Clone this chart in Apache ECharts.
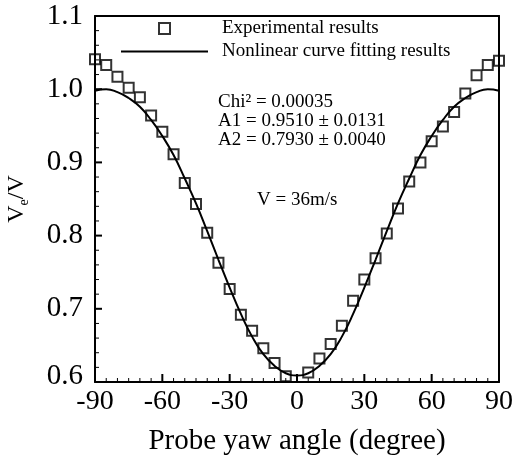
<!DOCTYPE html>
<html>
<head>
<meta charset="utf-8">
<script src="https://cdn.jsdelivr.net/npm/echarts@6/dist/echarts.min.js"></script>
<style>html,body{margin:0;padding:0;background:#fff;}#c{width:515px;height:458px;}</style>
</head>
<body>
<div id="c"></div>
<script>
// Experimental points
var expAngles = [-90,-85,-80,-75,-70,-65,-60,-55,-50,-45,-40,-35,-30,-25,-20,-15,-10,-5,
                 5,10,15,20,25,30,35,40,45,50,55,60,65,70,75,80,85,90];
var expValues = [1.041,1.033,1.017,1.002,0.989,0.964,0.942,0.911,0.872,0.843,0.804,0.763,0.727,0.692,0.670,0.646,0.626,0.608,
                 0.613,0.632,0.652,0.677,0.711,0.740,0.769,0.803,0.837,0.874,0.900,0.929,0.949,0.969,0.994,1.019,1.033,1.039];
// Fitted curve
var fitAngles = [-90,-85,-80,-75,-70,-65,-60,-55,-50,-45,-40,-35,-30,-25,-20,-15,-10,-5,0,
                 5,10,15,20,25,30,35,40,45,50,55,60,65,70,75,80,85,90];
var fitValues = [0.998,1.000,0.996,0.988,0.976,0.958,0.936,0.910,0.878,0.844,0.806,0.767,0.729,0.693,0.662,0.638,0.622,0.612,0.609,
                 0.612,0.622,0.638,0.662,0.693,0.729,0.767,0.806,0.844,0.878,0.910,0.936,0.958,0.976,0.988,0.996,1.000,0.998];
// Tick values
var xTickMajor = [-90,-60,-30,0,30,60,90];
var xTickMinor = [-85,-80,-75,-70,-65,-55,-50,-45,-40,-35,-25,-20,-15,-10,-5,
                  5,10,15,20,25,35,40,45,50,55,65,70,75,80,85];
var yTickMajor = [0.6,0.7,0.8,0.9,1.0,1.1];
var yTickMinor = [0.62,0.64,0.66,0.68,0.72,0.74,0.76,0.78,0.82,0.84,0.86,0.88,
                  0.92,0.94,0.96,0.98,1.02,1.04,1.06,1.08];
var seriesNames = ['Experimental results', 'Nonlinear curve fitting results'];
var annotations = ['Chi\u00B2 = 0.00035', 'A1 = 0.9510 \u00B1 0.0131', 'A2 = 0.7930 \u00B1 0.0040', 'V = 36m/s'];
var xTitle = 'Probe yaw angle (degree)';

var FF = '"Liberation Serif", "DejaVu Serif", serif';
var X_MIN = -90, X_MAX = 90, Y_MIN = 0.6, Y_MAX = 1.1;
function zip(a, b) { return a.map(function (v, i) { return [v, b[i]]; }); }

// tick items: [kind (0 = x, 1 = y), value, length, width]
var tickData = []
  .concat(xTickMajor.map(function (v) { return [0, v, 8, 2]; }))
  .concat(xTickMinor.map(function (v) { return [0, v, 4, 1]; }))
  .concat(yTickMajor.map(function (v) { return [1, v, 7, 2]; }))
  .concat(yTickMinor.map(function (v) { return [1, v, 4, 1]; }));

var frameAxis = {
  axisLine: {show: true, onZero: false, lineStyle: {color: '#000', width: 2}},
  axisTick: {show: false}, axisLabel: {show: false}, splitLine: {show: false}
};

var chart = echarts.init(document.getElementById('c'), null, {renderer: 'canvas'});
chart.setOption({
  backgroundColor: '#fff',
  animation: false,
  grid: {left: 95, right: 16, top: 16, bottom: 76, show: false, containLabel: false, outerBoundsMode: 'none'},
  legend: {
    orient: 'vertical', left: 121, top: 19, padding: 0,
    itemWidth: 87, itemHeight: 11, itemGap: 4,
    textStyle: {fontFamily: FF, fontSize: 19, color: '#000', padding: [0, 0, 0, 9]},
    data: [
      {name: seriesNames[0], icon: 'path://M0,0L10,0L10,10L0,10Z',
       itemStyle: {color: 'transparent', borderColor: '#000', borderWidth: 2}},
      {name: seriesNames[1], icon: 'path://M0,0L87,0L87,2L0,2Z',
       itemStyle: {color: '#000', borderWidth: 0}}
    ]
  },
  xAxis: [{
    type: 'value', min: X_MIN, max: X_MAX, interval: 30, position: 'bottom',
    axisLine: {show: true, onZero: false, lineStyle: {color: '#000', width: 2}},
    axisTick: {show: false},
    splitLine: {show: false},
    axisLabel: {fontFamily: FF, fontSize: 28, color: '#000', margin: 6},
    name: xTitle, nameLocation: 'middle', nameGap: 45,
    nameTextStyle: {fontFamily: FF, fontSize: 29, color: '#000'}
  }, Object.assign({type: 'value', min: X_MIN, max: X_MAX, interval: 30, position: 'top'}, frameAxis)],
  yAxis: [{
    type: 'value', min: Y_MIN, max: Y_MAX, interval: 0.1, position: 'left',
    axisLine: {show: true, onZero: false, lineStyle: {color: '#000', width: 2}},
    axisTick: {show: false},
    splitLine: {show: false},
    axisLabel: {
      fontFamily: FF, fontSize: 29, color: '#000', margin: 12,
      formatter: function (v) { var s = v.toFixed(1); return Math.abs(v - 0.6) < 1e-6 ? '{low|' + s + '}' : s; },
      rich: {low: {fontFamily: FF, fontSize: 29, color: '#000', padding: [0, 0, 12, 0]}}
    },
    name: '{v|V}{e|e}{v|/V}', nameLocation: 'middle', nameGap: 64,
    nameTextStyle: {
      rich: {
        v: {fontFamily: FF, fontSize: 24, color: '#000', lineHeight: 28, verticalAlign: 'middle'},
        e: {fontFamily: FF, fontSize: 14, color: '#000', lineHeight: 28, verticalAlign: 'bottom'}
      }
    }
  }, Object.assign({type: 'value', min: Y_MIN, max: Y_MAX, interval: 0.1, position: 'right'}, frameAxis)],
  series: [
    {
      name: seriesNames[0], type: 'scatter', symbol: 'rect', symbolSize: 10,
      itemStyle: {color: 'transparent', borderColor: '#000', borderWidth: 2},
      data: zip(expAngles, expValues), z: 3
    },
    {
      name: seriesNames[1], type: 'line', smooth: true, showSymbol: false, symbol: 'none',
      lineStyle: {color: '#000', width: 2}, itemStyle: {color: '#000'},
      data: zip(fitAngles, fitValues), z: 2
    },
    {
      name: 'ticks', type: 'custom', silent: true, clip: false, z: 4,
      data: tickData,
      renderItem: function (params, api) {
        var kind = api.value(0), v = api.value(1), len = api.value(2), w = api.value(3);
        var p, shape;
        if (kind === 0) {
          p = api.coord([v, Y_MIN]);
          shape = {x1: p[0], y1: p[1], x2: p[0], y2: p[1] - len};
        } else {
          p = api.coord([X_MIN, v]);
          shape = {x1: p[0], y1: p[1], x2: p[0] + len, y2: p[1]};
        }
        return {type: 'line', shape: shape, style: {stroke: '#000', lineWidth: w}};
      }
    }
  ],
  graphic: [
    {type: 'text', x: 218, y: 102, style: {text: annotations[0], font: '19px ' + FF, fill: '#000', textVerticalAlign: 'middle'}},
    {type: 'text', x: 218, y: 121, style: {text: annotations[1], font: '19px ' + FF, fill: '#000', textVerticalAlign: 'middle'}},
    {type: 'text', x: 218, y: 140, style: {text: annotations[2], font: '19px ' + FF, fill: '#000', textVerticalAlign: 'middle'}},
    {type: 'text', x: 257, y: 200, style: {text: annotations[3], font: '19px ' + FF, fill: '#000', textVerticalAlign: 'middle'}}
  ]
});
</script>
</body>
</html>
